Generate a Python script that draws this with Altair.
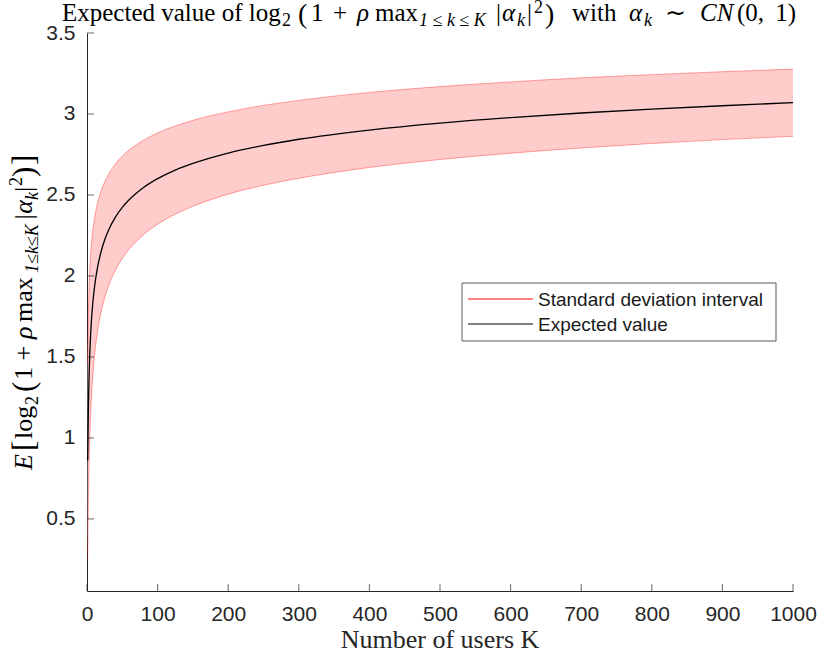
import pandas as pd
import altair as alt

# ---- data ----
K = [1, 2, 3, 4, 5, 6, 7, 8, 10, 12, 15, 20, 25, 30, 40, 50, 60, 80, 100, 125,
     150, 200, 250, 300, 400, 500, 600, 700, 800, 900, 1000]
mean = [0.860, 1.199, 1.395, 1.528, 1.627, 1.705, 1.769, 1.822, 1.908, 1.976,
        2.055, 2.151, 2.222, 2.278, 2.362, 2.424, 2.472, 2.546, 2.601, 2.654,
        2.695, 2.759, 2.806, 2.844, 2.901, 2.944, 2.978, 3.006, 3.030, 3.051, 3.070]
lo = [0.255, 0.619, 0.849, 1.009, 1.131, 1.226, 1.305, 1.371, 1.478, 1.561,
      1.659, 1.777, 1.864, 1.932, 2.033, 2.108, 2.166, 2.254, 2.319, 2.381,
      2.430, 2.505, 2.560, 2.603, 2.670, 2.719, 2.758, 2.790, 2.818, 2.842, 2.862]
hi = [1.466, 1.780, 1.942, 2.048, 2.124, 2.184, 2.233, 2.273, 2.339, 2.390,
      2.451, 2.525, 2.580, 2.624, 2.690, 2.740, 2.779, 2.838, 2.883, 2.926,
      2.961, 3.013, 3.053, 3.084, 3.133, 3.169, 3.198, 3.223, 3.243, 3.261, 3.277]
x_ticks = [0, 100, 200, 300, 400, 500, 600, 700, 800, 900, 1000]
y_ticks = [0.5, 1.0, 1.5, 2.0, 2.5, 3.0, 3.5]
legend_labels = ["Standard deviation interval", "Expected value"]

df = pd.DataFrame({"K": K, "mean": mean, "lo": lo, "hi": hi})

W, H = 706, 558
OX, OY = 87, 33  # page position of plot origin
AX = "#262626"
NB = "\u00a0"

xs = alt.Scale(domain=[0, 1000], nice=False, zero=False)
ys = alt.Scale(domain=[0.055, 3.5], nice=False, zero=False)

xaxis = alt.Axis(values=x_ticks, title=None, ticks=False, grid=False, format="d",
                 labelFont="Liberation Sans", labelFontSize=21, labelColor=AX,
                 labelPadding=12, labelFlush=False, domainColor=AX, domainWidth=1)
yaxis = alt.Axis(values=y_ticks, title=None, ticks=False, grid=False, format="~g",
                 labelFont="Liberation Sans", labelFontSize=21, labelColor=AX,
                 labelPadding=12, domainColor=AX, domainWidth=1)

base = alt.Chart(df)
X = alt.X("K:Q", scale=xs, axis=xaxis)
band = base.mark_area(color="#ffcccc", interpolate="monotone").encode(
    x=X, y=alt.Y("lo:Q", scale=ys, axis=yaxis), y2="hi:Q")
edge_lo = base.mark_line(color="#ff0000", opacity=0.35, strokeWidth=1, interpolate="monotone").encode(
    x=X, y=alt.Y("lo:Q", scale=ys, axis=yaxis))
edge_hi = base.mark_line(color="#ff0000", opacity=0.35, strokeWidth=1, interpolate="monotone").encode(
    x=X, y=alt.Y("hi:Q", scale=ys, axis=yaxis))
mean_line = base.mark_line(color="#000000", strokeWidth=1.3, interpolate="monotone").encode(
    x=X, y=alt.Y("mean:Q", scale=ys, axis=yaxis))

# inward ticks (MATLAB style)
ytk = alt.Chart(pd.DataFrame({"t": y_ticks})).mark_tick(
    orient="horizontal", size=7, thickness=1, color=AX, xOffset=3.5).encode(
    y=alt.Y("t:Q", scale=ys, axis=yaxis), x=alt.value(0))
xtk = alt.Chart(pd.DataFrame({"t": x_ticks})).mark_tick(
    orient="vertical", size=7, thickness=1, color=AX, yOffset=-3.5).encode(
    x=alt.X("t:Q", scale=xs, axis=xaxis), y=alt.value(H))

one = pd.DataFrame({"a": [0]})


def txt(s, px, py, size, italic=False, angle=0, font="Liberation Serif",
        color="#000000", align="left", baseline="alphabetic"):
    kw = dict(text=s, font=font, fontSize=size, color=color, align=align,
              baseline=baseline, fontStyle="italic" if italic else "normal")
    if angle:
        kw["angle"] = angle
    return alt.Chart(one).mark_text(**kw).encode(
        x=alt.value(px - OX), y=alt.value(py - OY))


TB = 21   # title baseline (page y)
TM, TS, TP = 25, 18, 28  # main, script, paren sizes
title_parts = [
    ("Expected value of log", 62, TB, TM, False),
    ("2", 282, TB + 5, TS, False),
    ("(", 298, TB + 2, TP, False),
    ("1", 311, TB, TM, False),
    ("+", 333, TB, TM, False),
    ("ρ", 357, TB, TM, True),
    ("max", 375, TB, TM, False),
    ("1" + NB + "≤" + NB + "k" + NB + "≤" + NB + "K", 419, TB + 5, TS, True),
    ("|", 496, TB, TM, False),
    ("α", 502, TB, TM, True),
    ("k", 517, TB + 5, TS, True),
    ("|", 527, TB, TM, False),
    ("2", 534, TB - 8, TS, False),
    (")", 545, TB + 2, TP, False),
    ("with", 572, TB, TM, False),
    ("α", 629, TB, TM, True),
    ("k", 644, TB + 5, TS, True),
    ("∼", 665, TB, TM, False),
    ("CN", 700, TB, TM, True),
    ("(0," + NB + "\u2009" + "1)", 737, TB, TM, False),
]
title_layers = [txt(s, x, y, f, it) for (s, x, y, f, it) in title_parts]

YB = 32  # y-label baseline (page x)
ylab_parts = [
    ("E", YB, 470, 26, True),
    ("[", YB + 2, 451, 31, False),
    ("log", YB, 439, 26, False),
    ("2", YB + 6, 405, 18, False),
    ("(", YB + 2, 392, 31, False),
    ("1" + NB + "+", YB, 380, 26, False),
    ("ρ", YB, 339, 26, True),
    ("max", YB, 322, 26, False),
    ("1≤k≤K", YB + 6, 273, 18, True),
    ("|α", YB, 221, 26, True),
    ("k", YB + 6, 200, 18, True),
    ("|", YB, 192, 26, False),
    ("2", YB - 10, 186, 18, False),
    (")", YB + 2, 177, 31, False),
    ("]", YB + 2, 165, 31, False),
]
ylab_layers = [txt(s, x, y, f, it, angle=270) for (s, x, y, f, it) in ylab_parts]

xlab = txt("Number of users K", OX + W / 2, 648, 26, align="center", color=AX)

# legend box
leg_box = alt.Chart(one).mark_rect(fill="#ffffff", stroke="#5a5a5a", strokeWidth=1).encode(
    x=alt.value(462 - OX), x2=alt.value(776 - OX), y=alt.value(283 - OY), y2=alt.value(341 - OY))
leg_red = alt.Chart(one).mark_rule(color="#ff0000", strokeWidth=1).encode(
    x=alt.value(468 - OX), x2=alt.value(533 - OX), y=alt.value(299 - OY))
leg_blk = alt.Chart(one).mark_rule(color="#000000", strokeWidth=1).encode(
    x=alt.value(468 - OX), x2=alt.value(533 - OX), y=alt.value(324 - OY))
leg_t1 = txt(legend_labels[0], 538, 300, 19, font="Liberation Sans", color="#1a1a1a", baseline="middle")
leg_t2 = txt(legend_labels[1], 538, 325, 19, font="Liberation Sans", color="#1a1a1a", baseline="middle")

chart = alt.layer(
    band, edge_lo, edge_hi, mean_line, ytk, xtk,
    *title_layers, *ylab_layers, xlab,
    leg_box, leg_red, leg_blk, leg_t1, leg_t2,
).properties(
    width=W, height=H,
    autosize=alt.AutoSizeParams(type="none"),
    padding={"left": OX, "top": OY, "right": 819 - OX - W, "bottom": 658 - OY - H},
).configure_view(stroke=None)

chart.save("out.html", embed_options={"renderer": "svg", "actions": False})
